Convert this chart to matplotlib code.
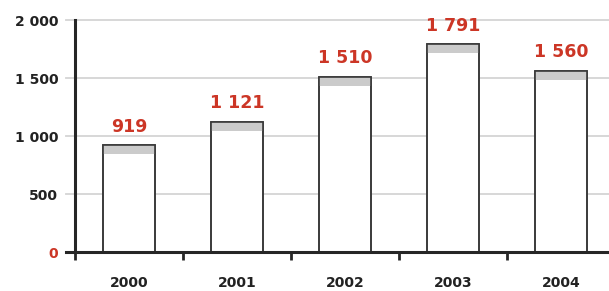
import matplotlib.pyplot as plt

years = ['2000', '2001', '2002', '2003', '2004']
values = [919, 1121, 1510, 1791, 1560]
yticks = [0, 500, 1000, 1500, 2000]
ytick_labels = ['0', '500', '1 000', '1 500', '2 000']

red = '#cc3626'
dark = '#262626'
band = 75  # grey cap on top of each bar

fig = plt.figure(figsize=(6.09, 2.91), dpi=100)
ax = fig.add_axes([75 / 609, 39 / 291, 534 / 609, 232 / 291])

x = list(range(len(years)))
ax.bar(x, values, width=0.48, color='white', edgecolor='#3a3a3a', linewidth=1.2, zorder=3)
ax.bar(x, [band] * len(values), bottom=[v - band for v in values], width=0.48,
       color='#cbcbcb', edgecolor='none', zorder=3)
ax.bar(x, values, width=0.48, color='none', edgecolor='#3a3a3a', linewidth=1.2, zorder=4)

for xi, v in zip(x, values):
    txt = f'{v:,}'.replace(',', ' ')
    ax.annotate(txt, (xi, v), xytext=(0, 7), textcoords='offset points',
                ha='center', va='bottom', color=red, fontsize=12.5, fontweight='bold')

# grid lines reaching a little left of the axis
for t in yticks[1:]:
    ax.axhline(t, xmin=-0.017, xmax=1, color='#d4d4d4', linewidth=1.3, clip_on=False, zorder=1)
ax.axhline(0, xmin=-0.017, xmax=1, color=dark, linewidth=2.2, clip_on=False, zorder=5)

ax.set_xlim(-0.5, 4.44)
ax.set_ylim(0, 2000)

for s in ['top', 'right', 'bottom']:
    ax.spines[s].set_visible(False)
ax.spines['left'].set_color(dark)
ax.spines['left'].set_linewidth(2.2)
ax.spines['left'].set_zorder(5)

ax.set_yticks(yticks)
ax.set_yticklabels(ytick_labels, fontsize=10, fontweight='bold', color='#222222')
ax.get_yticklabels()[0].set_color(red)
ax.tick_params(axis='y', length=0, pad=12)

ax.set_xticks([-0.5, 0.5, 1.5, 2.5, 3.5])
ax.set_xticklabels([])
ax.tick_params(axis='x', which='major', length=6, width=2, color=dark, direction='out')
ax.set_xticks(x, minor=True)
ax.set_xticklabels(years, minor=True, fontsize=10, fontweight='bold', color='#222222')
ax.tick_params(axis='x', which='minor', length=0, pad=17)

fig.savefig('out.png', dpi=100)
